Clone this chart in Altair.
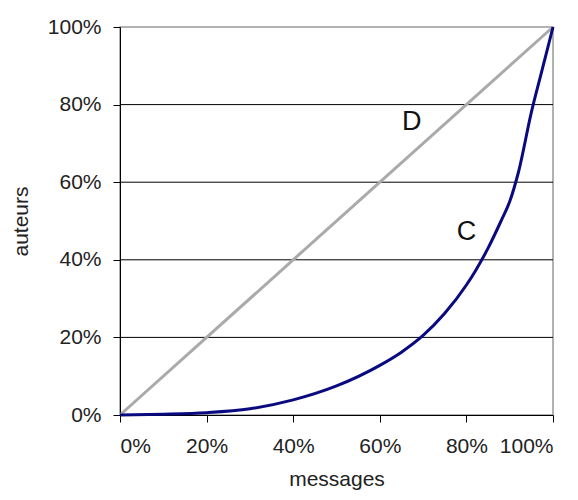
import altair as alt
import pandas as pd

# Curve C (concentration curve)
c_x = [0.0, 0.10, 0.20, 0.30, 0.40, 0.50, 0.60, 0.65, 0.70, 0.75, 0.80, 0.82, 0.85, 0.88, 0.90, 0.92, 0.95, 0.975, 1.0]
c_y = [0.0, 0.002, 0.006, 0.016, 0.039, 0.075, 0.128, 0.162, 0.205, 0.262, 0.335, 0.37, 0.43, 0.50, 0.55, 0.625, 0.78, 0.89, 1.0]
# Line D (equality)
d_x = [0.0, 1.0]
d_y = [0.0, 1.0]
# Gridlines and labels
grid_vals = [0.2, 0.4, 0.6, 0.8]
label_text = ["D", "C"]
label_x = [0.674, 0.80]
label_y = [0.756, 0.472]

FONT = "Liberation Sans"

df_c = pd.DataFrame({"x": c_x, "y": c_y})
df_d = pd.DataFrame({"x": d_x, "y": d_y})
df_g = pd.DataFrame({"v": grid_vals})
df_l = pd.DataFrame({"t": label_text, "x": label_x, "y": label_y})

xs = alt.Scale(domain=[0, 1], nice=False, zero=False)
ys = alt.Scale(domain=[0, 1], nice=False, zero=False)

xaxis = alt.Axis(title="messages", format="%", values=[0, 0.2, 0.4, 0.6, 0.8, 1.0],
                 grid=False, domainColor="black", tickColor="black", tickSize=7,
                 labelPadding=13, labelFont=FONT, labelFontSize=21, labelColor="#222",
                 titleFont=FONT, titleFontSize=21, titleFontWeight="normal", titleColor="#222",
                 titlePadding=12)
yaxis = alt.Axis(title="auteurs", format="%", values=[0, 0.2, 0.4, 0.6, 0.8, 1.0],
                 grid=False, domainColor="black", tickColor="black", tickSize=7,
                 labelPadding=12, labelFont=FONT, labelFontSize=21, labelColor="#222",
                 titleFont=FONT, titleFontSize=21, titleFontWeight="normal", titleColor="#222",
                 titlePadding=16)

grid = alt.Chart(df_g).mark_rule(color="black", strokeWidth=1).encode(
    y=alt.Y("v:Q", scale=ys, axis=yaxis)
)
d_line = alt.Chart(df_d).mark_line(color="#AAAAAA", strokeWidth=3).encode(
    x=alt.X("x:Q", scale=xs, axis=xaxis), y=alt.Y("y:Q", scale=ys)
)
c_line = alt.Chart(df_c).mark_line(color="#0A0A80", strokeWidth=3, interpolate="monotone").encode(
    x=alt.X("x:Q", scale=xs), y=alt.Y("y:Q", scale=ys)
)
labels = alt.Chart(df_l).mark_text(font=FONT, fontSize=27, color="#111").encode(
    x=alt.X("x:Q", scale=xs), y=alt.Y("y:Q", scale=ys), text="t:N"
)

chart = alt.layer(grid, d_line, c_line, labels).properties(
    width=433, height=388,
    autosize=alt.AutoSizeParams(type="none"),
    padding={"left": 112, "top": 19, "right": 17, "bottom": 77},
    background="white",
).configure_view(stroke="#999999", strokeWidth=1.5)

chart.save("out.html", embed_options={"renderer": "svg", "actions": False})
